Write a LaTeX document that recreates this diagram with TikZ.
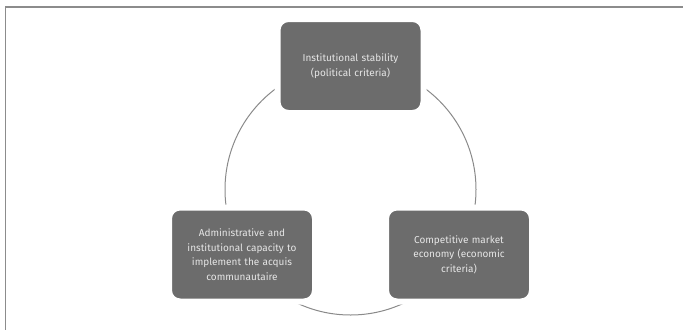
\documentclass[tikz,border=0pt]{standalone}
\usepackage{fontspec}
\setmainfont{Fira Sans}
\begin{document}
\begin{tikzpicture}[x=1pt,y=-1pt,
  criterion/.style={rectangle, rounded corners=11pt, fill=boxgray, draw=white,
    line width=6pt, minimum width=146pt, minimum height=94pt,
    text=boxtext, align=center, text width=134pt,
    font=\fontsize{10}{14.5}\selectfont},
  cycleline/.style={draw=linegray, line width=1pt},
  framerule/.style={draw=framegray, line width=1.5pt}]
\definecolor{boxgray}{HTML}{6C6C6C}
\definecolor{boxtext}{HTML}{E6E6E6}
\definecolor{linegray}{HTML}{8A8A8A}
\definecolor{framegray}{HTML}{8C8C8C}
\useasboundingbox (0,0) rectangle (683,330);
% frame along the top and left edges
\coordinate (frameTR) at (683,7);
\coordinate (frameTL) at (5.5,7);
\coordinate (frameBL) at (5.5,330);
\draw[framerule] (frameTR) -- (frameTL) -- (frameBL);
% cycle linking the three criteria
\coordinate (centre) at (350.5,189.5);
\draw[cycleline] (centre) circle[radius=125.5pt];
% the three criteria
\node[criterion] (political) at (350.5,66) {Institutional stability\\(political criteria)};
\node[criterion] (admin) at (242,254.5) {Administrative and\\institutional capacity to\\implement the acquis\\communautaire};
\node[criterion] (economic) at (459,254.5) {Competitive market\\economy (economic\\criteria)};
\end{tikzpicture}
\end{document}
